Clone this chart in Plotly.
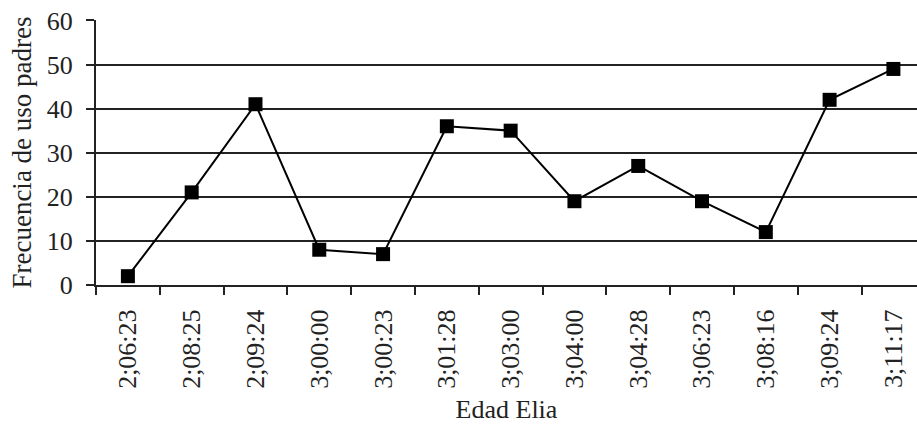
import plotly.graph_objects as go

edades = ["2;06:23", "2;08:25", "2;09:24", "3;00:00", "3;00:23", "3;01:28", "3;03:00",
          "3;04:00", "3;04:28", "3;06:23", "3;08:16", "3;09:24", "3;11:17"]
frecuencia = [2, 21, 41, 8, 7, 36, 35, 19, 27, 19, 12, 42, 49]
y_ticks = [0, 10, 20, 30, 40, 50, 60]

FONT = "Liberation Serif, Times New Roman, serif"

fig = go.Figure()
fig.add_trace(go.Scatter(
    x=edades, y=frecuencia, mode="lines+markers",
    line=dict(color="black", width=2),
    marker=dict(symbol="square", size=14, color="black"),
    showlegend=False, cliponaxis=False,
))

fig.update_layout(
    width=917, height=433,
    margin=dict(l=96, r=0, t=20, b=148),
    paper_bgcolor="white", plot_bgcolor="white",
    font=dict(family=FONT, size=26, color="#222"),
    xaxis=dict(
        type="category", range=[-0.5, 12.37], automargin=False,
        tickson="boundaries", ticks="outside", ticklen=8, tickwidth=1.5, tickcolor="#222",
        showline=True, linecolor="#222", linewidth=2,
        showgrid=False, tickangle=-90, tickfont=dict(size=26),
        ticklabelstandoff=12, ticklabeloverflow="allow",
        title=dict(text="Edad Elia", font=dict(size=26), standoff=12),
    ),
    yaxis=dict(
        range=[0, 60.1], tickvals=y_ticks, ticks="outside", ticklen=8, tickwidth=1.5, tickcolor="#222",
        showline=True, linecolor="#222", linewidth=2, automargin=False,
        showgrid=True, gridcolor="#222", gridwidth=1.5,
        zeroline=False, tickfont=dict(size=26),
        ticklabelstandoff=8, ticklabeloverflow="allow",
        title=dict(text="Frecuencia de uso padres", font=dict(size=27), standoff=7),
    ),
)

fig.write_html("out.html", config={"displayModeBar": False},
               post_script="document.body.style.margin='0';")
